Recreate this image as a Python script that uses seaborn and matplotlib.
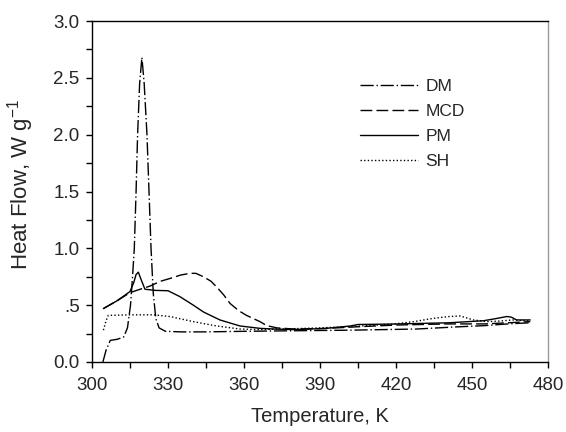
import numpy as np
import pandas as pd
import matplotlib
matplotlib.use("Agg")
import matplotlib.pyplot as plt
import seaborn as sns
from matplotlib.ticker import MultipleLocator, FixedLocator, FixedFormatter

# DSC curves (Temperature in K, heat flow in W/g)
dm_t = [304.3, 305.5, 307.2, 310, 312.5, 314.0, 315.2, 316.0, 316.7, 317.4, 318.0, 318.8,
        319.7, 320.6, 321.7, 322.5, 323.3, 324.2, 325.2, 326.5, 329, 335, 345, 360, 380,
        402, 428, 445, 455, 464, 473]
dm_v = [0.0, 0.1, 0.19, 0.2, 0.22, 0.3, 0.5, 0.75, 1.0, 1.5, 2.0, 2.45,
        2.68, 2.45, 2.0, 1.5, 1.0, 0.6, 0.38, 0.3, 0.27, 0.265, 0.265, 0.27, 0.275,
        0.28, 0.29, 0.31, 0.32, 0.335, 0.345]

mcd_t = [304.5, 310, 315, 319, 322.9, 327, 330.8, 335, 338.7, 341, 344, 347, 349.2, 352,
         354.5, 358, 361, 366.3, 369, 373, 380, 392, 405, 420, 440, 455, 464, 473]
mcd_v = [0.47, 0.54, 0.61, 0.64, 0.668, 0.71, 0.735, 0.765, 0.78, 0.78, 0.75, 0.71, 0.66, 0.59,
         0.515, 0.45, 0.41, 0.355, 0.32, 0.3, 0.29, 0.295, 0.31, 0.325, 0.335, 0.335, 0.345, 0.355]

pm_t = [304.5, 310, 315, 316.5, 317.4, 318.3, 319.3, 320.9, 325, 330, 334.7, 340, 344, 350.5,
        358.4, 366.3, 372, 380, 392, 402, 405, 419, 441, 454.5, 459, 463.7, 465.5, 467.6, 473]
pm_v = [0.47, 0.54, 0.62, 0.7, 0.77, 0.79, 0.73, 0.64, 0.63, 0.627, 0.575, 0.5, 0.44, 0.37,
        0.317, 0.296, 0.29, 0.285, 0.295, 0.317, 0.33, 0.334, 0.345, 0.363, 0.38, 0.40, 0.395,
        0.37, 0.37]

sh_t = [304.5, 305.5, 306.4, 315, 324.2, 330.8, 340, 349.2, 358.4, 366, 375, 390, 405, 419,
        427, 434.7, 441, 445.3, 450.5, 455.8, 461, 466, 473]
sh_v = [0.28, 0.36, 0.41, 0.415, 0.415, 0.4, 0.355, 0.317, 0.29, 0.285, 0.29, 0.3, 0.315, 0.334,
        0.355, 0.384, 0.4, 0.405, 0.37, 0.355, 0.36, 0.37, 0.36]

labels = ["DM", "MCD", "PM", "SH"]
styles = {
    "DM": (0, (9.5, 2, 1, 2)),
    "MCD": (0, (8.5, 3)),
    "PM": "-",
    "SH": (0, (1, 1.6)),
}

df = pd.concat([
    pd.DataFrame({"T": dm_t, "HF": dm_v, "Sample": "DM"}),
    pd.DataFrame({"T": mcd_t, "HF": mcd_v, "Sample": "MCD"}),
    pd.DataFrame({"T": pm_t, "HF": pm_v, "Sample": "PM"}),
    pd.DataFrame({"T": sh_t, "HF": sh_v, "Sample": "SH"}),
], ignore_index=True)

sns.set_theme(style="ticks")
plt.rcParams["font.family"] = ["Liberation Sans", "DejaVu Sans"]
plt.rcParams["mathtext.fontset"] = "custom"
plt.rcParams["mathtext.rm"] = "Liberation Sans"
plt.rcParams["mathtext.it"] = "Liberation Sans"

fig = plt.figure(figsize=(5.66, 4.32), dpi=100)
ax = fig.add_axes([92 / 566, 70 / 432, 456 / 566, 341 / 432])

for name in labels:
    sub = df[df["Sample"] == name]
    sns.lineplot(data=sub, x="T", y="HF", ax=ax, color="black", linewidth=1.0,
                 linestyle=styles[name], estimator=None, sort=False, label=name)

ax.set_xlim(300, 480)
ax.set_ylim(0, 3.0)
ax.xaxis.set_major_locator(MultipleLocator(30))
ax.xaxis.set_minor_locator(MultipleLocator(15))
ax.yaxis.set_major_locator(FixedLocator([0, 0.5, 1.0, 1.5, 2.0, 2.5, 3.0]))
ax.yaxis.set_major_formatter(FixedFormatter(["0.0", ".5", "1.0", "1.5", "2.0", "2.5", "3.0"]))
ax.yaxis.set_minor_locator(MultipleLocator(0.25))

ax.tick_params(which="both", direction="out", length=4, width=1.0, color="black",
               labelsize=13.5, top=False, right=False)
ax.tick_params(axis="x", pad=7)
ax.tick_params(axis="y", pad=5)

for side in ["left", "bottom", "top"]:
    ax.spines[side].set_color("black")
    ax.spines[side].set_linewidth(1.0)
ax.spines["right"].set_color("#9a9a9a")
ax.spines["right"].set_linewidth(1.0)

ax.set_xlabel("Temperature, K", fontsize=14.5)
ax.set_ylabel("Heat Flow, W g$^{-1}$", fontsize=16)
ax.xaxis.set_label_coords(0.5, -0.132)
ax.yaxis.set_label_coords(-0.123, 0.522)

ax.legend(loc="upper left", bbox_to_anchor=(0.588, 0.83), frameon=False,
          handlelength=3.35, handletextpad=0.4, labelspacing=0.56, borderpad=0,
          borderaxespad=0, fontsize=12.5)

fig.savefig("out.png", dpi=100)
